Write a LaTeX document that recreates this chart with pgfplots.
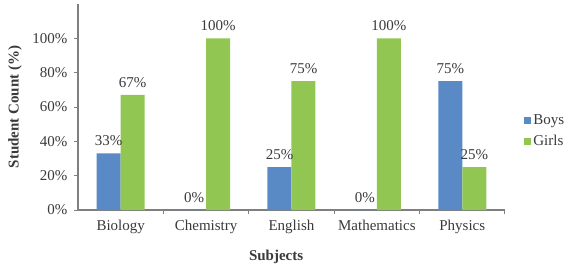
\documentclass[border=0pt]{standalone}
\usepackage{pgfplots}
\pgfplotsset{compat=1.18}
\usepackage{fontspec}
\setmainfont{Liberation Serif}
\definecolor{boys}{HTML}{5A8AC6}
\definecolor{girls}{HTML}{92C653}
\definecolor{axgray}{HTML}{7F7F7F}
\definecolor{txt}{HTML}{3A3A3A}
\begin{document}
\begin{tikzpicture}
\useasboundingbox (-78bp,-58bp) rectangle (492bp,210bp);
\begin{axis}[
  at={(0,0)}, anchor=south west,
  scale only axis, width=427bp, height=206bp,
  font=\fontsize{15bp}{17bp}\selectfont,
  every tick label/.append style={text=txt},
  /pgf/number format/assume math mode=true,
  ybar=0pt, bar width=24bp,
  xmin=-0.5, xmax=4.5, ymin=0, ymax=120,
  axis x line*=bottom, axis y line*=left,
  axis line style={axgray, line width=1.5bp},
  xtick={0,1,2,3,4},
  xticklabels={Biology,Chemistry,English,Mathematics,Physics},
  major x tick style={draw=none},
  minor xtick={0.5,1.5,2.5,3.5,4.5},
  minor x tick style={axgray, line width=1bp},
  minor tick length=4bp,
  ytick={0,20,40,60,80,100},
  yticklabel={\pgfmathprintnumber{\tick}\%},
  y tick style={axgray, line width=1bp},
  major tick length=4bp,
  tick align=outside,
  xticklabel style={yshift=-3bp},
  yticklabel style={xshift=-3bp},
  xlabel={\textbf{Subjects}},
  ylabel={\textbf{Student Count (\%)}},
  label style={text=txt},
  xlabel style={at={(axis description cs:0.464,-0.228)}, anchor=center},
  ylabel style={at={(axis description cs:-0.1475,0.5)}, anchor=center},
  nodes near coords={\pgfmathprintnumber{\pgfplotspointmeta}\%},
  nodes near coords style={font=\fontsize{15bp}{17bp}\selectfont, text=txt, /pgf/number format/assume math mode=true, inner sep=0.5bp, yshift=7bp},
  legend style={at={(1.045,0.383)}, anchor=west, draw=none, fill=none,
    font=\fontsize{15bp}{17bp}\selectfont, text=txt, row sep=5bp, inner sep=0pt,
    /tikz/every even column/.append style={column sep=3bp}},
  legend cell align=left,
  legend image code/.code={\fill[#1] (0bp,-3.5bp) rectangle (7bp,3.5bp);},
]
\addplot[fill=boys, draw=none] coordinates {(0,33) (1,0) (2,25) (3,0) (4,75)};
\addplot[fill=girls, draw=none] coordinates {(0,67) (1,100) (2,75) (3,100) (4,25)};
\legend{Boys,Girls}
\end{axis}
\end{tikzpicture}
\end{document}
